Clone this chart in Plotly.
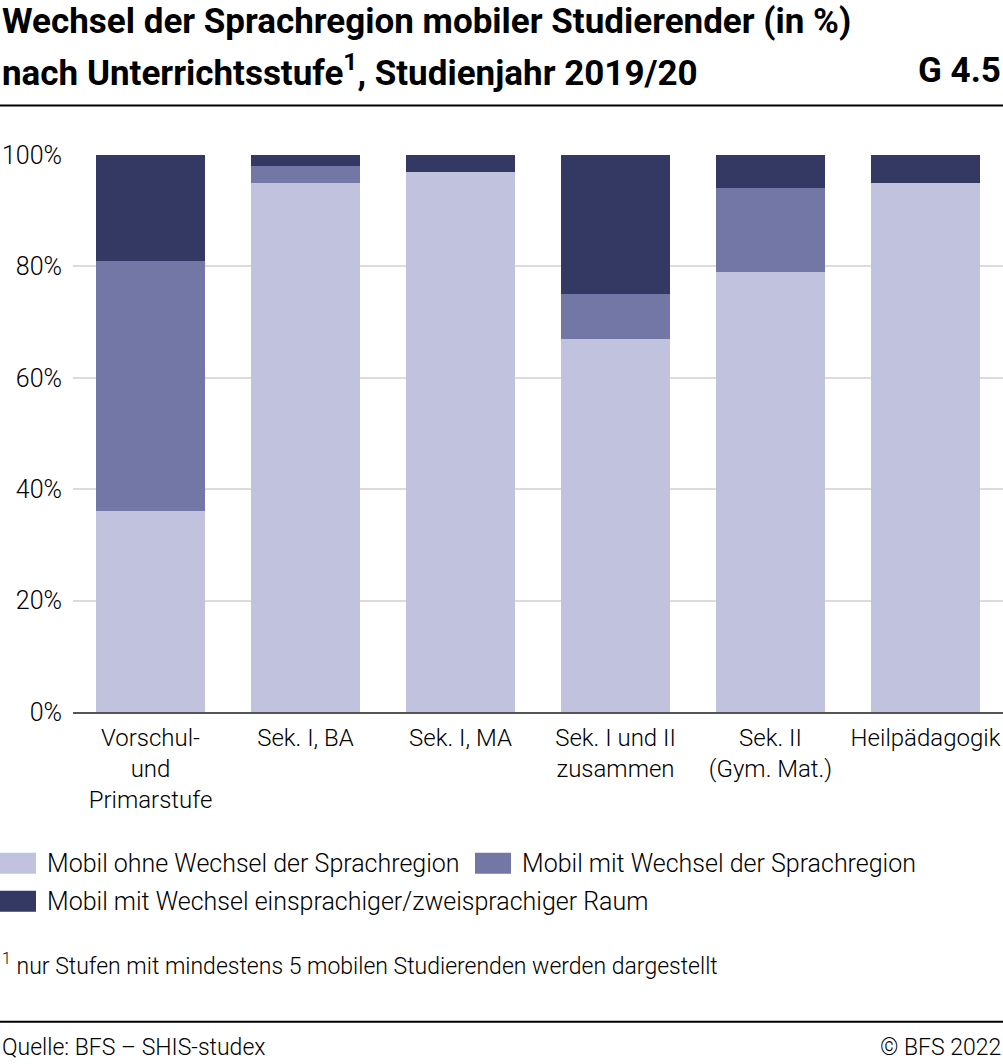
import plotly.graph_objects as go

categories = ["Vorschul-<br>und<br>Primarstufe", "Sek. I, BA", "Sek. I, MA",
              "Sek. I und II<br>zusammen", "Sek. II<br>(Gym. Mat.)", "Heilpädagogik"]
series_names = ["Mobil ohne Wechsel der Sprachregion",
                "Mobil mit Wechsel der Sprachregion",
                "Mobil mit Wechsel einsprachiger/zweisprachiger Raum"]
ohne_wechsel = [36, 95, 97, 67, 79, 95]
mit_wechsel = [45, 3, 0, 8, 15, 0]
ein_zwei = [19, 2, 3, 25, 6, 5]
y_ticks = [0, 20, 40, 60, 80, 100]
y_ticklabels = ["0%", "20%", "40%", "60%", "80%", "100%"]

colors = ["#c1c3de", "#7277a6", "#333963"]
W, H = 1003, 1064
L, R_, T, B = 73, 1003, 154.5, 712

def px(x):
    return (x - L) / (R_ - L)

def py(y):
    return (B - y) / (B - T)

fig = go.Figure()
for name, vals, col in zip(series_names, [ohne_wechsel, mit_wechsel, ein_zwei], colors):
    fig.add_trace(go.Bar(x=categories, y=vals, name=name, marker_color=col,
                         marker_line_width=0, showlegend=False))

FONT = "Roboto"
ann = []
shapes = []
# Title
TS = 35
ann.append(dict(text="<b>Wechsel der Sprachregion mobiler Studierender (in %)</b>",
                x=px(0), y=py(21), xanchor="left", yanchor="middle",
                font=dict(family=FONT, size=TS, color="#000")))
ann.append(dict(text="<b>nach Unterrichtsstufe<sup>1</sup>, Studienjahr 2019/20</b>",
                x=px(0), y=py(70), xanchor="left", yanchor="middle",
                font=dict(family=FONT, size=TS, color="#000")))
ann.append(dict(text="<b>G 4.5</b>", x=px(1003), y=py(70), xanchor="right", yanchor="middle",
                font=dict(family=FONT, size=TS, color="#000")))
shapes.append(dict(type="line", xref="paper", yref="paper", x0=px(0), x1=px(1003),
                   y0=py(105), y1=py(105), line=dict(color="#000", width=2)))
shapes.append(dict(type="line", xref="paper", yref="paper", x0=px(0), x1=px(1003),
                   y0=py(1022), y1=py(1022), line=dict(color="#000", width=2)))

# Legend (manual)
leg_pos = [(0, 863.5), (475, 863.5), (0, 901.5)]
for (lx, ly), name, col in zip(leg_pos, series_names, colors):
    shapes.append(dict(type="rect", xref="paper", yref="paper", x0=px(lx), x1=px(lx + 36),
                       y0=py(ly - 10.5), y1=py(ly + 10.5), fillcolor=col, line=dict(width=0)))
    ann.append(dict(text=name, x=px(lx + 45), y=py(ly), xanchor="left", yanchor="middle",
                    font=dict(family=FONT, size=25, color="#000", weight=300)))

# Footnote
ann.append(dict(text="<sup>1</sup> nur Stufen mit mindestens 5 mobilen Studierenden werden dargestellt",
                x=px(0), y=py(965), xanchor="left", yanchor="middle",
                font=dict(family=FONT, size=23, color="#000", weight=300)))
ann.append(dict(text="Quelle: BFS – SHIS-studex", x=px(0), y=py(1048), xanchor="left", yanchor="middle",
                font=dict(family=FONT, size=23, color="#000", weight=300)))
ann.append(dict(text="© BFS 2022", x=px(1003), y=py(1048), xanchor="right", yanchor="middle",
                font=dict(family=FONT, size=23, color="#000", weight=300)))

for a in ann:
    a.update(xref="paper", yref="paper", showarrow=False)

fig.update_layout(
    width=W, height=H,
    margin=dict(l=L, r=W - R_, t=T, b=H - B, pad=0),
    barmode="stack", bargap=0.297,
    plot_bgcolor="white", paper_bgcolor="white",
    annotations=ann, shapes=shapes,
    font=dict(family=FONT, size=24, color="#000", weight=300),
)
fig.update_yaxes(range=[0, 100], tickvals=y_ticks, ticktext=y_ticklabels,
                 showgrid=True, gridcolor="#dcdcdc", gridwidth=2,
                 zeroline=False, showline=False, ticks="", ticklabelstandoff=10,
                 tickfont=dict(family=FONT, size=25, color="#000", weight=300),
                 automargin=False, fixedrange=True)
fig.update_xaxes(showline=True, linecolor="#555", linewidth=2, ticks="",
                 tickfont=dict(family=FONT, size=24, color="#000", weight=300),
                 tickangle=0, automargin=False, ticklabelstandoff=3, fixedrange=True)

fig.write_html("out.html", config={"displayModeBar": False},
               post_script="document.body.style.margin='0';document.body.style.padding='0';")
